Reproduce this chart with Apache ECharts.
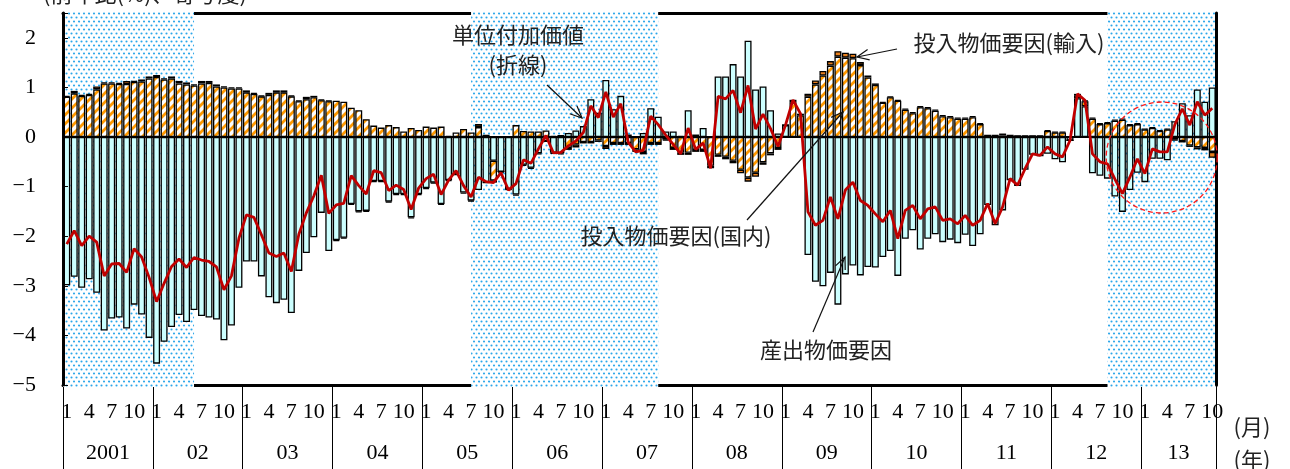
<!DOCTYPE html>
<html>
<head>
<meta charset="utf-8">
<script src="https://cdn.jsdelivr.net/npm/echarts@6/dist/echarts.min.js"></script>
<style>
  html, body { margin: 0; padding: 0; background: #fff; }
  #chart { width: 1290px; height: 469px; }
</style>
</head>
<body>
<div id="chart"></div>
<script>
// Monthly series from January 2001 to October 2013
const startYear = 2001;
const monthCount = 154;
const yearLabels = ['2001', '02', '03', '04', '05', '06', '07', '08', '09', '10', '11', '12', '13'];
const monthLabelSet = [1, 4, 7, 10];

// Shaded periods, in months counted from January 2001
const shadedPeriods = [[0, 17.5], [54.5, 79.5], [139.5, 154]];

// 産出物価要因
const outputFactor = [
  -2.99, -2.82, -3.04, -2.87, -3.14, -3.90, -3.66, -3.64, -3.86, -3.38, -3.58, -4.05,
  -4.57, -4.13, -3.83, -3.59, -3.73, -3.49, -3.61, -3.64, -3.68, -4.10, -3.80, -3.04,
  -2.51, -2.51, -2.81, -3.23, -3.35, -3.28, -3.55, -2.70, -2.34, -2.02, -1.53, -2.30,
  -2.08, -2.03, -1.35, -1.50, -1.49, -0.89, -0.89, -1.30, -1.15, -1.15, -1.62, -1.15,
  -1.03, -0.92, -1.35, -0.87, -0.75, -1.12, -1.28, -1.07, -0.93, -0.48, -0.70, -1.05,
  -1.16, -0.56, -0.62, -0.33, -0.08, -0.32, -0.33, 0.08, 0.13, 0.22, 0.76, 0.49,
  1.15, 0.56, 0.83, 0.05, 0.00, 0.08, 0.58, 0.41, 0.11, 0.11, 0.02, 0.54,
  0.05, 0.18, 0.00, 1.22, 1.22, 1.47, 1.22, 1.94, 0.96, 1.02, 0.54, 0.07,
  0.24, 0.00, 0.00, -2.38, -2.92, -3.01, -2.74, -3.38, -2.77, -2.59, -2.79, -2.62,
  -2.63, -2.42, -2.30, -2.80, -2.05, -1.88, -2.27, -2.05, -1.96, -2.12, -2.07, -2.14,
  -1.97, -2.20, -1.96, -1.37, -1.78, -1.48, -0.87, -0.99, -0.66, -0.36, -0.39, -0.34,
  -0.45, -0.51, -0.07, 0.78, 0.62, -0.73, -0.78, -0.84, -1.20, -1.51, -1.07, -0.72,
  -0.91, -0.44, -0.44, -0.47, 0.32, 0.68, 0.44, 0.96, 0.71, 1.00
];

// 投入物価要因(国内)
const inputDomestic = [
  0.81, 0.88, 0.83, 0.85, 0.96, 1.08, 1.08, 1.07, 1.07, 1.11, 1.12, 1.18,
  1.21, 1.16, 1.18, 1.08, 1.06, 1.04, 1.08, 1.09, 1.02, 1.00, 0.98, 0.98,
  0.90, 0.87, 0.82, 0.85, 0.90, 0.90, 0.82, 0.72, 0.76, 0.80, 0.74, 0.72,
  0.73, 0.71, 0.59, 0.54, 0.36, 0.23, 0.19, 0.24, 0.20, 0.11, 0.18, 0.14,
  0.21, 0.19, 0.21, 0.02, 0.09, 0.16, 0.09, 0.20, 0.03, -0.40, 0.00, 0.00,
  0.24, 0.12, 0.11, 0.11, 0.13, 0.02, 0.04, -0.22, -0.15, -0.10, -0.10, -0.07,
  -0.18, -0.12, -0.12, -0.12, -0.25, -0.30, -0.12, -0.12, -0.05, -0.22, -0.32, -0.32,
  -0.26, -0.26, -0.58, -0.36, -0.40, -0.48, -0.66, -0.82, -0.72, -0.51, -0.33, -0.22,
  0.00, 0.70, 0.44, 0.81, 1.06, 1.24, 1.44, 1.62, 1.60, 1.59, 1.45, 1.20,
  1.05, 0.69, 0.80, 0.73, 0.55, 0.48, 0.60, 0.58, 0.53, 0.42, 0.40, 0.37,
  0.37, 0.40, 0.26, 0.03, 0.03, 0.03, 0.03, 0.02, 0.02, 0.02, 0.02, 0.12,
  0.09, 0.09, 0.00, 0.06, 0.10, 0.37, 0.26, 0.28, 0.33, 0.35, 0.24, 0.26,
  0.15, 0.18, 0.12, 0.15, -0.05, -0.08, -0.17, -0.21, -0.22, -0.30
];

// 投入物価要因(輸入)
const inputImport = [
  0.02, 0.05, 0.02, 0.02, 0.06, 0.02, 0.02, 0.02, 0.06, 0.02, 0.04, 0.04,
  0.04, 0.02, 0.04, 0.05, 0.04, 0.02, 0.05, 0.04, 0.04, 0.02, 0.02, 0.02,
  0.04, 0.02, 0.02, 0.04, 0.04, 0.04, 0.02, 0.02, 0.05, 0.03, 0.02, 0.02,
  -0.02, -0.02, -0.02, -0.02, -0.02, -0.02, -0.02, -0.02, -0.02, -0.02, -0.02, -0.02,
  -0.02, -0.02, -0.02, -0.02, -0.02, -0.02, -0.02, 0.06, 0.00, -0.04, -0.02, -0.02,
  -0.02, -0.02, -0.02, -0.02, -0.02, -0.02, -0.02, -0.04, -0.06, -0.03, -0.03, -0.03,
  -0.06, -0.04, -0.04, -0.04, -0.05, -0.05, -0.04, -0.04, -0.02, -0.04, -0.04, -0.04,
  -0.04, -0.04, -0.05, -0.04, -0.05, -0.05, -0.07, -0.08, -0.08, -0.05, -0.04, -0.04,
  0.00, 0.05, 0.03, 0.06, 0.08, 0.09, 0.09, 0.11, 0.10, 0.09, 0.06, 0.04,
  0.03, 0.02, 0.02, 0.02, 0.02, 0.02, 0.02, 0.02, 0.02, 0.02, 0.02, 0.02,
  0.02, 0.02, 0.02, 0.00, 0.00, 0.04, 0.00, 0.00, 0.00, 0.00, 0.00, 0.02,
  0.02, 0.02, 0.00, 0.03, 0.02, 0.02, 0.02, 0.02, 0.02, 0.02, 0.02, 0.02,
  0.02, 0.02, 0.02, 0.02, -0.02, -0.03, -0.03, -0.04, -0.05, -0.12
];

// 単位付加価値(折線)
const unitValueAdded = [
  -2.16, -1.89, -2.19, -2.00, -2.12, -2.80, -2.56, -2.55, -2.73, -2.25, -2.42, -2.83,
  -3.32, -2.95, -2.61, -2.46, -2.63, -2.43, -2.48, -2.51, -2.62, -3.08, -2.80, -2.04,
  -1.57, -1.62, -1.97, -2.34, -2.41, -2.34, -2.71, -1.96, -1.53, -1.19, -0.77, -1.54,
  -1.37, -1.34, -0.78, -0.98, -1.15, -0.68, -0.72, -1.08, -0.97, -1.06, -1.46, -1.03,
  -0.84, -0.75, -1.16, -0.87, -0.68, -0.98, -1.21, -0.81, -0.90, -0.92, -0.72, -1.07,
  -0.94, -0.46, -0.53, -0.24, 0.03, -0.32, -0.31, -0.18, -0.08, 0.09, 0.63, 0.39,
  0.91, 0.40, 0.67, -0.11, -0.30, -0.27, 0.42, 0.25, 0.04, -0.15, -0.34, 0.18,
  -0.25, -0.12, -0.63, 0.82, 0.77, 0.94, 0.49, 1.04, 0.16, 0.46, 0.17, -0.19,
  0.24, 0.75, 0.47, -1.51, -1.78, -1.68, -1.21, -1.65, -1.07, -0.91, -1.28, -1.38,
  -1.55, -1.71, -1.48, -2.05, -1.48, -1.38, -1.65, -1.45, -1.41, -1.68, -1.65, -1.75,
  -1.58, -1.78, -1.68, -1.34, -1.75, -1.41, -0.84, -0.97, -0.64, -0.34, -0.37, -0.20,
  -0.34, -0.40, -0.07, 0.87, 0.74, -0.34, -0.50, -0.54, -0.85, -1.14, -0.81, -0.44,
  -0.74, -0.24, -0.30, -0.30, 0.25, 0.57, 0.24, 0.71, 0.44, 0.58
];

// Category labels: one per month
const months = [];
for (let i = 0; i < monthCount; i++) {
  months.push((startYear + Math.floor(i / 12)) + '-' + (i % 12 + 1));
}

// Fill patterns
function dotPattern() {
  const c = document.createElement('canvas');
  c.width = 10; c.height = 8;
  const g = c.getContext('2d');
  g.fillStyle = '#ffffff';
  g.fillRect(0, 0, 10, 8);
  g.fillStyle = '#2aa6ea';
  [[1.5, 1.5], [6.5, 1.5], [4, 5.5], [9, 5.5], [-1, 5.5]].forEach(function (p) {
    g.beginPath();
    g.arc(p[0], p[1], 1.05, 0, Math.PI * 2);
    g.fill();
  });
  return c;
}
function hatchPattern() {
  const s = 9;
  const c = document.createElement('canvas');
  c.width = s; c.height = s;
  const g = c.getContext('2d');
  g.fillStyle = '#ffffff';
  g.fillRect(0, 0, s, s);
  g.strokeStyle = '#ff9900';
  g.lineWidth = 2.8;
  g.beginPath();
  g.moveTo(0, s); g.lineTo(s, 0);
  g.moveTo(-3, 3); g.lineTo(3, -3);
  g.moveTo(s - 3, s + 3); g.lineTo(s + 3, s - 3);
  g.stroke();
  return c;
}
const dots = { image: dotPattern(), repeat: 'repeat' };
const hatch = { image: hatchPattern(), repeat: 'repeat' };

const serif = '"Liberation Serif", "DejaVu Serif", serif';
const jp = '"Noto Sans CJK JP", "Noto Sans", sans-serif';

// Callout arrow: a straight stroke with an open head at the tip
function arrow(x1, y1, x2, y2) {
  const a = Math.atan2(y2 - y1, x2 - x1);
  const len = 13, spread = 0.42;
  const h1 = [x2 - len * Math.cos(a - spread), y2 - len * Math.sin(a - spread)];
  const h2 = [x2 - len * Math.cos(a + spread), y2 - len * Math.sin(a + spread)];
  const st = { stroke: '#111', lineWidth: 1.2, fill: null };
  return [
    { type: 'polyline', shape: { points: [[x1, y1], [x2, y2]] }, style: st, z: 20 },
    { type: 'polyline', shape: { points: [h1, [x2, y2], h2] }, style: st, z: 20 }
  ];
}
function note(text, x, y, size) {
  return {
    type: 'text', x: x, y: y, z: 20,
    style: {
      text: text, fill: '#222', font: (size || 22) + 'px ' + jp,
      align: 'center', verticalAlign: 'middle',
      textAlign: 'center', textVerticalAlign: 'middle'
    }
  };
}

const chart = echarts.init(document.getElementById('chart'), null, { renderer: 'canvas', width: 1290, height: 469 });

const barBorder = { borderColor: '#000', borderWidth: 1.3 };

const option = {
  animation: false,
  backgroundColor: '#ffffff',
  grid: { left: 63, top: 13, width: 1153, height: 372, containLabel: false },
  xAxis: [
    {
      type: 'category', data: months, position: 'bottom', boundaryGap: true, z: 0,
      axisLine: { onZero: false, lineStyle: { color: '#000', width: 3 } },
      axisTick: { show: false },
      axisLabel: {
        interval: 0, margin: 16, fontFamily: serif, fontSize: 22, color: '#000',
        formatter: function (v) {
          const m = +v.split('-')[1];
          return monthLabelSet.indexOf(m) >= 0 ? String(m) : '';
        }
      }
    },
    {
      type: 'category', data: months, position: 'bottom', boundaryGap: true, z: 0,
      axisLine: { show: false, onZero: false },
      axisTick: { show: false },
      axisLabel: {
        margin: 57,
        interval: function (i) { return i < 144 ? i % 12 === 6 : i === 149; },
        formatter: function (v, i) { return '{y|' + yearLabels[Math.floor(i / 12)] + '}'; },
        rich: { y: { fontFamily: serif, fontSize: 22, color: '#000', padding: [0, 7.5, 0, 0] } }
      }
    },
    {
      type: 'category', data: months, position: 'top', z: 0,
      axisLine: { onZero: false, lineStyle: { color: '#000', width: 3 } },
      axisTick: { show: false }, axisLabel: { show: false }
    },
    {
      type: 'value', min: 0, max: monthCount, interval: 12, position: 'bottom', z: 0,
      axisLine: { show: false, onZero: false },
      axisTick: { show: true, length: 84, lineStyle: { color: '#000', width: 1 } },
      axisLabel: { show: false }, splitLine: { show: false }
    }
  ],
  yAxis: [
    {
      type: 'value', min: -5, max: 2.5, interval: 1, position: 'left', z: 6,
      axisLine: { show: true, onZero: false, lineStyle: { color: '#000', width: 3 } },
      axisTick: { show: true, inside: true, length: 5, lineStyle: { color: '#000', width: 1 } },
      splitLine: { show: false },
      axisLabel: {
        margin: 27, fontFamily: serif, fontSize: 22, color: '#000',
        formatter: function (v) { return Number.isInteger(v) ? String(v).replace('-', '\u2212') : ''; }
      }
    },
    {
      type: 'value', min: -5, max: 2.5, position: 'right', z: 6,
      axisLine: { show: true, onZero: false, lineStyle: { color: '#000', width: 3 } },
      axisTick: { show: false }, axisLabel: { show: false }, splitLine: { show: false }
    }
  ],
  series: [
    {
      type: 'custom', xAxisIndex: 3, yAxisIndex: 0, z: 1, silent: true, clip: false,
      data: shadedPeriods,
      encode: { x: [0, 1] },
      renderItem: function (params, api) {
        const x0 = api.coord([api.value(0), 0])[0];
        const x1 = api.coord([api.value(1), 0])[0];
        const cs = params.coordSys;
        return {
          type: 'rect',
          shape: { x: x0, y: cs.y - 2, width: x1 - x0, height: cs.height + 4 },
          style: { fill: dots }
        };
      }
    },
    {
      name: '産出物価要因', type: 'bar', stack: 'factors', data: outputFactor,
      barWidth: '93%', z: 3,
      itemStyle: Object.assign({ color: '#ccffff' }, barBorder)
    },
    {
      name: '投入物価要因(国内)', type: 'bar', stack: 'factors', data: inputDomestic,
      barWidth: '93%', z: 3,
      itemStyle: Object.assign({ color: hatch }, barBorder)
    },
    {
      name: '投入物価要因(輸入)', type: 'bar', stack: 'factors', data: inputImport,
      barWidth: '93%', z: 3,
      itemStyle: Object.assign({ color: '#e8801e' }, barBorder),
      markLine: {
        silent: true, symbol: ['none', 'none'], label: { show: false },
        lineStyle: { color: '#000', width: 2.2, type: 'solid' },
        data: [{ yAxis: 0 }]
      }
    },
    {
      name: '単位付加価値', type: 'line', data: unitValueAdded, z: 5,
      symbol: 'none', smooth: false,
      lineStyle: { color: '#c00000', width: 2.8 }
    }
  ],
  graphic: [].concat(
    [
      note('(前年比(%)、寄与度)', 145, -6),
      note('単位付加価値', 518, 35),
      note('(折線)', 518, 65),
      note('投入物価要因(輸入)', 1009, 43),
      note('投入物価要因(国内)', 676, 236),
      note('産出物価要因', 826, 350),
      note('(月)', 1252, 427),
      note('(年)', 1252, 460)
    ],
    arrow(547, 85, 582, 118),
    arrow(897, 49, 857, 57),
    arrow(747, 220, 843, 112),
    arrow(813, 332, 845, 257),
    [{
      type: 'circle', z: 20, silent: true,
      shape: { cx: 1161.7, cy: 157.5, r: 55.5 },
      style: { fill: null, stroke: '#ff1a1a', lineWidth: 1.3, lineDash: [5, 3] }
    }]
  )
};

chart.setOption(option);
</script>
</body>
</html>
